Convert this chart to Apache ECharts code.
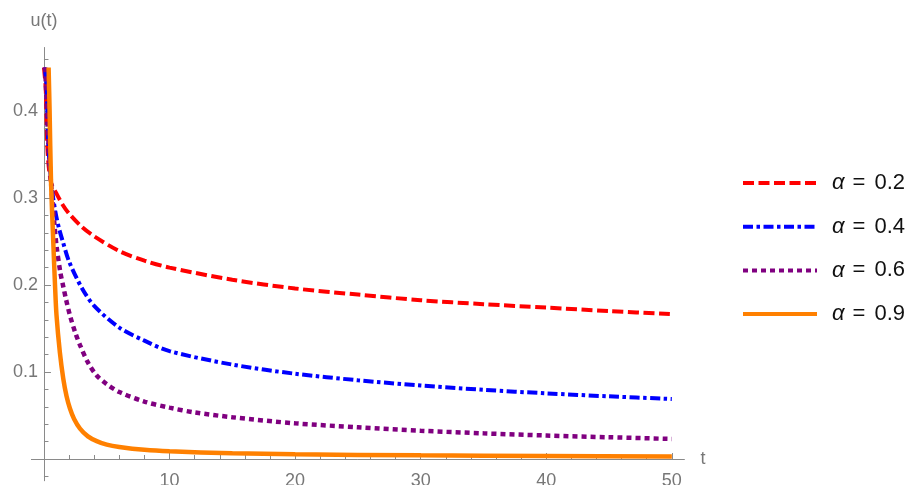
<!DOCTYPE html>
<html>
<head>
<meta charset="utf-8">
<script src="https://cdn.jsdelivr.net/npm/echarts@6/dist/echarts.min.js"></script>
<style>
html,body{margin:0;padding:0;background:#fff;}
#c{width:910px;height:485px;}
</style>
</head>
<body>
<div id="c"></div>
<script>
// ---- data ----
const seriesNames = ['α = 0.2', 'α = 0.4', 'α = 0.6', 'α = 0.9'];

const tRed = [0, 0.14, 0.29, 0.56, 1.0, 1.5, 2, 3, 4, 6, 8, 10, 15, 20, 25, 30, 35, 40, 45, 50];
const uRed = [0.45, 0.426, 0.353, 0.318, 0.305, 0.292, 0.282, 0.267, 0.256, 0.239, 0.228, 0.220, 0.206, 0.196, 0.189, 0.1825, 0.178, 0.174, 0.170, 0.1665];

const tBlue = [0.05, 0.2, 0.35, 0.6, 0.9, 1.2, 1.5, 2, 3, 4, 6, 8, 10, 15, 20, 25, 30, 35, 40, 45, 50];
const uBlue = [0.45, 0.43, 0.36, 0.315, 0.285, 0.265, 0.250, 0.227, 0.197, 0.176, 0.151, 0.136, 0.124, 0.1085, 0.098, 0.0905, 0.0845, 0.0795, 0.0755, 0.072, 0.069];

const tPurple = [0.1, 0.3, 0.55, 0.82, 1.0, 1.3, 1.54, 1.75, 2.07, 2.5, 2.87, 3.5, 4.2, 5, 6, 8, 10, 12, 15, 20, 25, 30, 35, 40, 45, 50];
const uPurple = [0.45, 0.38, 0.32, 0.272, 0.245, 0.215, 0.198, 0.184, 0.165, 0.145, 0.131, 0.111, 0.096, 0.086, 0.077, 0.066, 0.059, 0.0535, 0.048, 0.041, 0.0365, 0.0325, 0.0295, 0.027, 0.025, 0.023];

const tOrange = [0.37, 0.45, 0.56, 0.74, 0.88, 1.0, 1.27, 1.54, 1.8, 2.07, 2.4, 2.87, 3.5, 4.2, 5, 6, 8, 10, 15, 20, 30, 40, 50];
const uOrange = [0.45, 0.40, 0.32, 0.25, 0.20, 0.165, 0.122, 0.092, 0.072, 0.058, 0.046, 0.035, 0.026, 0.0205, 0.0165, 0.0138, 0.0105, 0.0088, 0.0066, 0.0054, 0.0042, 0.0035, 0.003];

const xMajorTicks = [10, 20, 30, 40, 50];
const xMinorTicks = [2, 4, 6, 8, 12, 14, 16, 18, 22, 24, 26, 28, 32, 34, 36, 38, 42, 44, 46, 48];
const yMajorTicks = [0.1, 0.2, 0.3, 0.4];
const yMinorTicks = [-0.02, 0.02, 0.04, 0.06, 0.08, 0.12, 0.14, 0.16, 0.18, 0.22, 0.24, 0.26, 0.28, 0.32, 0.34, 0.36, 0.38, 0.42, 0.44, 0.46];

// ---- chart ----
const zip = (ts, us) => ts.map((t, i) => [t, us[i]]);
const axisGray = '#8a8a8a';
const labelGray = '#777777';
const font = 'Liberation Sans';

const chart = echarts.init(document.getElementById('c'), null, {renderer: 'canvas'});

const baseX = {
  type: 'value', min: -1, max: 51, position: 'bottom',
  splitLine: {show: false},
  axisLine: {onZero: true, lineStyle: {color: axisGray, width: 1}}
};
const baseY = {
  type: 'value', min: -0.025, max: 0.473, position: 'left',
  splitLine: {show: false},
  axisLine: {onZero: true, lineStyle: {color: axisGray, width: 1}}
};

const lineCommon = {type: 'line', showSymbol: false, symbol: 'none', smooth: 0.3, clip: true, z: 3};

chart.setOption({
  animation: false,
  grid: {left: 31.4, right: 225.6, top: 47.5, bottom: 4.25, containLabel: false, outerBoundsMode: 'none'},
  xAxis: [
    Object.assign({}, baseX, {
      name: 't', nameLocation: 'end', nameGap: 16,
      nameTextStyle: {color: labelGray, fontSize: 18, fontFamily: font, verticalAlign: 'middle', padding: [4, 0, 0, 0]},
      axisTick: {show: true, inside: true, length: 6, customValues: xMajorTicks, lineStyle: {color: axisGray}},
      axisLabel: {show: true, customValues: xMajorTicks, color: labelGray, fontSize: 18, fontFamily: font, margin: -9}
    }),
    Object.assign({}, baseX, {
      axisLine: {show: false, onZero: true},
      axisTick: {show: true, inside: true, length: 4, customValues: xMinorTicks, lineStyle: {color: axisGray}},
      axisLabel: {show: false}
    })
  ],
  yAxis: [
    Object.assign({}, baseY, {
      name: 'u(t)', nameLocation: 'end', nameGap: 17,
      nameTextStyle: {color: labelGray, fontSize: 18, fontFamily: font, align: 'center'},
      axisTick: {show: true, inside: true, length: 7, customValues: yMajorTicks, lineStyle: {color: axisGray}},
      axisLabel: {show: true, customValues: yMajorTicks, color: labelGray, fontSize: 18, fontFamily: font, margin: -6.6}
    }),
    Object.assign({}, baseY, {
      axisLine: {show: false, onZero: true},
      axisTick: {show: true, inside: true, length: 4.5, customValues: yMinorTicks, lineStyle: {color: axisGray}},
      axisLabel: {show: false}
    })
  ],
  legend: {
    orient: 'vertical', left: 736, top: 166,
    itemWidth: 74, itemHeight: 14, itemGap: 19.7,
    data: seriesNames,
    itemStyle: {opacity: 0, borderWidth: 0},
    lineStyle: {width: 4},
    formatter: name => '{i|α}{e|=}' + name.split('= ')[1],
    textStyle: {
      color: '#111', fontSize: 22, fontFamily: font, lineHeight: 24, padding: [0, 0, 0, 10],
      rich: {
        i: {fontStyle: 'italic', fontSize: 22, fontFamily: font, color: '#111'},
        e: {fontSize: 22, fontFamily: font, color: '#111', padding: [0, 9, 0, 8]}
      }
    }
  },
  series: [
    Object.assign({}, lineCommon, {name: seriesNames[0], data: zip(tRed, uRed), color: '#ff0000',
      lineStyle: {color: '#ff0000', width: 4, type: [11, 4.5], cap: 'butt'}}),
    Object.assign({}, lineCommon, {name: seriesNames[1], data: zip(tBlue, uBlue), color: '#0000ff',
      lineStyle: {color: '#0000ff', width: 4, type: [10, 3.5, 3.5, 3.5], cap: 'butt'}}),
    Object.assign({}, lineCommon, {name: seriesNames[2], data: zip(tPurple, uPurple), color: '#800080',
      lineStyle: {color: '#800080', width: 4.5, type: [5, 4], cap: 'butt'}}),
    Object.assign({}, lineCommon, {name: seriesNames[3], data: zip(tOrange, uOrange), color: '#ff8000',
      lineStyle: {color: '#ff8000', width: 4.5, type: 'solid'}})
  ]
});
</script>
</body>
</html>
